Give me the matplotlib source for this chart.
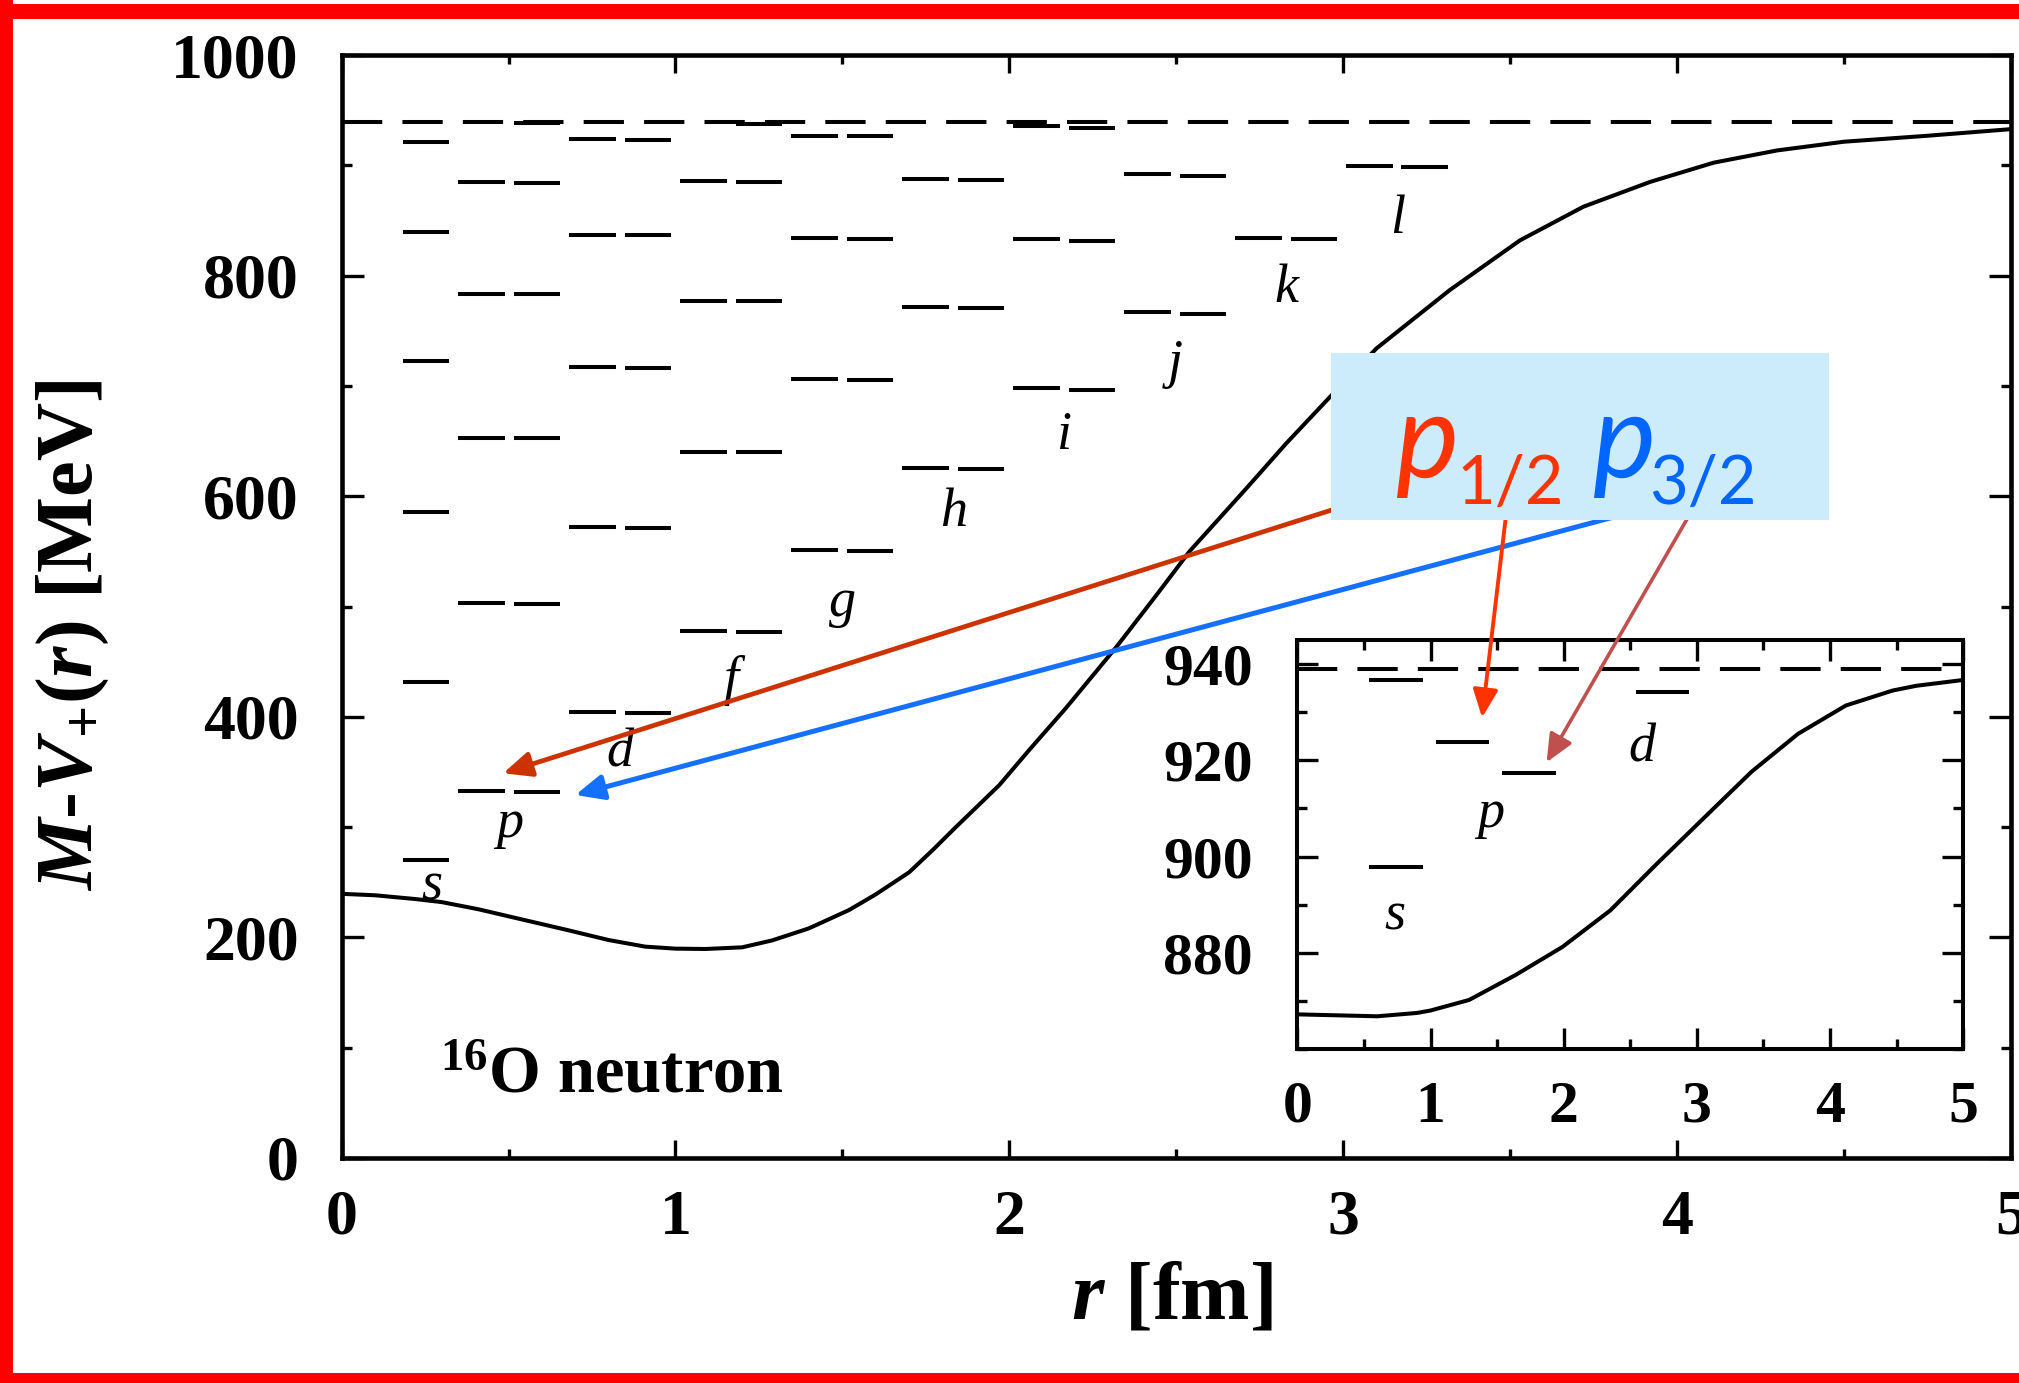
import matplotlib
matplotlib.use("Agg")
from matplotlib import pyplot as plt
from matplotlib.patches import Rectangle
from matplotlib.ticker import MultipleLocator

plt.rcParams['font.family'] = ['Liberation Serif', 'DejaVu Serif']
plt.rcParams['font.weight'] = 'bold'
plt.rcParams['mathtext.fontset'] = 'custom'
plt.rcParams['mathtext.rm'] = 'Liberation Serif:bold'
plt.rcParams['mathtext.it'] = 'Liberation Serif:italic:bold'
plt.rcParams['mathtext.bf'] = 'Liberation Serif:bold'

# M - V+(r) for 16O neutron, main panel
r_main = [0.0, 0.1, 0.22, 0.3, 0.41, 0.53, 0.68, 0.8, 0.91, 1.0, 1.09, 1.2, 1.29,
          1.4, 1.52, 1.6, 1.7, 1.77, 1.84, 1.97, 2.06, 2.17, 2.32, 2.44, 2.54,
          2.71, 2.83, 2.97, 3.1, 3.32, 3.53, 3.72, 3.92, 4.11, 4.3, 4.5, 4.75, 5.0]
pot_main = [239.5, 238.2, 234.8, 232.0, 225.5, 217.0, 206.4, 197.6, 191.6, 189.8,
            189.5, 191.0, 197.3, 208.2, 224.8, 239.0, 259.0, 279.0, 300.0, 338.0,
            370.0, 408.0, 463.0, 510.0, 550.0, 607.0, 648.0, 693.0, 734.0, 787.0,
            832.0, 862.5, 885.0, 902.4, 913.5, 921.4, 926.8, 932.8]

threshold = 939.0  # nucleon mass, dashed line

orbitals = ['s', 'p', 'd', 'f', 'g', 'h', 'i', 'j', 'k', 'l']
# levels for j = l - 1/2 (left bar) and j = l + 1/2 (right bar), MeV
levels_lo = [[],
             [884.8, 783.4, 653.1, 502.9, 333.0],
             [923.5, 836.8, 717.1, 572.1, 404.6],
             [885.5, 777.3, 640.4, 477.8],
             [926.6, 834.4, 706.6, 551.5],
             [887.3, 771.8, 625.9],
             [935.6, 832.9, 697.8],
             [892.1, 766.7],
             [834.4],
             [899.6]]
levels_hi = [[920.8, 839.2, 722.9, 585.4, 431.3, 270.2],
             [938.3, 884.4, 783.0, 652.8, 502.3, 332.1],
             [922.9, 836.5, 716.2, 571.2, 403.4],
             [937.4, 884.9, 776.7, 639.8, 476.9],
             [926.3, 833.5, 705.7, 550.6],
             [886.4, 770.4, 624.4],
             [934.1, 831.6, 696.0],
             [890.6, 764.9],
             [832.9],
             [898.2]]
label_E = [234, 291, 355, 421, 491, 573, 643, 708, 776, 839]

# inset panel
r_in = [0.0, 0.3, 0.6, 0.9, 1.0, 1.29, 1.64, 1.99, 2.35, 2.7, 3.06, 3.41, 3.76,
        4.12, 4.47, 4.65, 5.0]
pot_in = [867.2, 867.0, 866.8, 867.5, 868.0, 870.2, 875.4, 881.2, 888.8, 898.5,
          908.2, 917.6, 925.5, 931.4, 934.5, 935.5, 936.7]
inset_states = ['s1/2', 'p1/2', 'p3/2', 'd3/2', 'd5/2']
inset_levels = [[936.7, 897.9], [923.8], [917.3], [], [934.3]]
inset_names = ['s', 'p', 'd']
inset_label_r = [0.73, 1.45, 2.59]
inset_label_E = [884.8, 906.2, 919.8]

LW = 2.9

fig = plt.figure(figsize=(20.19, 13.83), dpi=100)
ax = fig.add_axes([0.1692, 0.1627, 0.8267, 0.7975])

ax.plot(r_main, pot_main, color='black', lw=LW, solid_joinstyle='round')
ax.axhline(threshold, color='black', lw=LW, linestyle=(0, (10, 5)))

for L, name in enumerate(orbitals):
    x0 = 0.0175 + 0.3325 * L
    if levels_lo[L]:
        ax.hlines(levels_lo[L], x0, x0 + 0.14, color='black', lw=LW)
    ax.hlines(levels_hi[L], x0 + 0.165, x0 + 0.305, color='black', lw=LW)
    xc = x0 + 0.1525 if levels_lo[L] else x0 + 0.2525
    ax.text(xc, label_E[L], name, fontstyle='italic', fontweight='normal',
            fontsize=39, ha='center', va='baseline')

ax.text(0.294, 59.2, r'$^{\mathbf{16}}$O neutron', fontsize=48,
        ha='left', va='baseline')

ax.set_xlim(0, 5)
ax.set_ylim(0, 1000)
ax.xaxis.set_major_locator(MultipleLocator(1))
ax.xaxis.set_minor_locator(MultipleLocator(0.5))
ax.yaxis.set_major_locator(MultipleLocator(200))
ax.yaxis.set_minor_locator(MultipleLocator(100))
ax.tick_params(which='both', direction='in', top=True, right=True, width=2.4)
ax.tick_params(axis='x', which='major', length=13, pad=23, labelsize=46)
ax.tick_params(axis='x', which='minor', length=6.5)
ax.tick_params(axis='y', which='major', length=16, pad=31, labelsize=46)
ax.tick_params(axis='y', which='minor', length=7.2)
for sp in ax.spines.values():
    sp.set_linewidth(3.3)

ax.set_xlabel(r'$r$ [fm]', fontsize=60, fontweight='bold')
ax.xaxis.set_label_coords(0.4975, -0.094)
ax.set_ylabel(r'$M$-$V_{+}$($r$) [MeV]', fontsize=58, fontweight='bold')
ax.yaxis.set_label_coords(-0.138, 0.474)

arrow_main = dict(arrowstyle='-|>,head_length=0.85,head_width=0.38',
                  mutation_scale=20, shrinkA=0, shrinkB=0)
ax.annotate('', xy=(0.484, 348.8), xytext=(3.23, 612.9),
            arrowprops=dict(arrow_main, color='#CC3300', lw=3.4))
ax.annotate('', xy=(0.70, 329.1), xytext=(3.889, 587.5),
            arrowprops=dict(arrow_main, color='#1570FF', lw=3.6))

# inset
axin = fig.add_axes([0.6426, 0.2415, 0.3297, 0.2957])
axin.plot(r_in, pot_in, color='black', lw=LW, solid_joinstyle='round')
axin.axhline(threshold, color='black', lw=LW, linestyle=(0, (10, 5)))
for k, Es in enumerate(inset_levels):
    x0 = 0.54 + 0.5 * k
    if Es:
        axin.hlines(Es, x0, x0 + 0.4, color='black', lw=LW)
for name, xr, ye in zip(inset_names, inset_label_r, inset_label_E):
    axin.text(xr, ye, name, fontstyle='italic', fontweight='normal',
              fontsize=39, ha='center', va='baseline')
axin.set_xlim(0, 5)
axin.set_ylim(860, 945)
axin.set_yticks([880, 900, 920, 940])
axin.xaxis.set_major_locator(MultipleLocator(1))
axin.xaxis.set_minor_locator(MultipleLocator(0.5))
axin.yaxis.set_minor_locator(MultipleLocator(10))
axin.tick_params(which='both', direction='in', top=True, right=True, width=2.4,
                 labelsize=43)
axin.tick_params(which='major', length=15)
axin.tick_params(which='minor', length=7.5)
axin.tick_params(axis='x', pad=23)
axin.tick_params(axis='y', pad=32)
for sp in axin.spines.values():
    sp.set_linewidth(2.9)

axin.annotate('', xy=(1.387, 928.9), xytext=(3.49, 587.5), textcoords=ax.transData,
              arrowprops=dict(arrow_main, color='#FF3300', lw=2.8))
axin.annotate('', xy=(1.872, 919.6), xytext=(4.046, 587.5), textcoords=ax.transData,
              arrowprops=dict(arrow_main, color='#C0504D', lw=2.6))

# highlighted box with p1/2 p3/2
fig.add_artist(Rectangle((0.659, 0.624), 0.2468, 0.121, transform=fig.transFigure,
                         facecolor='#CCEBFB', edgecolor='none', zorder=3))
fig.text(0.6913, 0.6544, 'p', family='Lato', fontstyle='italic', fontweight='normal',
         fontsize=86, color='#FF3300', ha='left', va='baseline', zorder=4)
fig.text(0.7215, 0.6356, '1/2', family='Lato', fontweight='normal',
         fontsize=48, color='#FF3300', ha='left', va='baseline', zorder=4)
fig.text(0.7889, 0.6544, 'p', family='Lato', fontstyle='italic', fontweight='normal',
         fontsize=86, color='#0066FF', ha='left', va='baseline', zorder=4)
fig.text(0.8170, 0.6356, '3/2', family='Lato', fontweight='normal',
         fontsize=48, color='#0066FF', ha='left', va='baseline', zorder=4)

# red frame
fig.add_artist(Rectangle((0, 0), 13 / 2019, 1, transform=fig.transFigure,
                         facecolor='#FF0000', edgecolor='none', zorder=10))
fig.add_artist(Rectangle((0, 1 - 19 / 1383), 1, 15 / 1383, transform=fig.transFigure,
                         facecolor='#FF0000', edgecolor='none', zorder=10))
fig.add_artist(Rectangle((0, 0), 1, 10 / 1383, transform=fig.transFigure,
                         facecolor='#FF0000', edgecolor='none', zorder=10))

fig.savefig('out.png', dpi=100)
